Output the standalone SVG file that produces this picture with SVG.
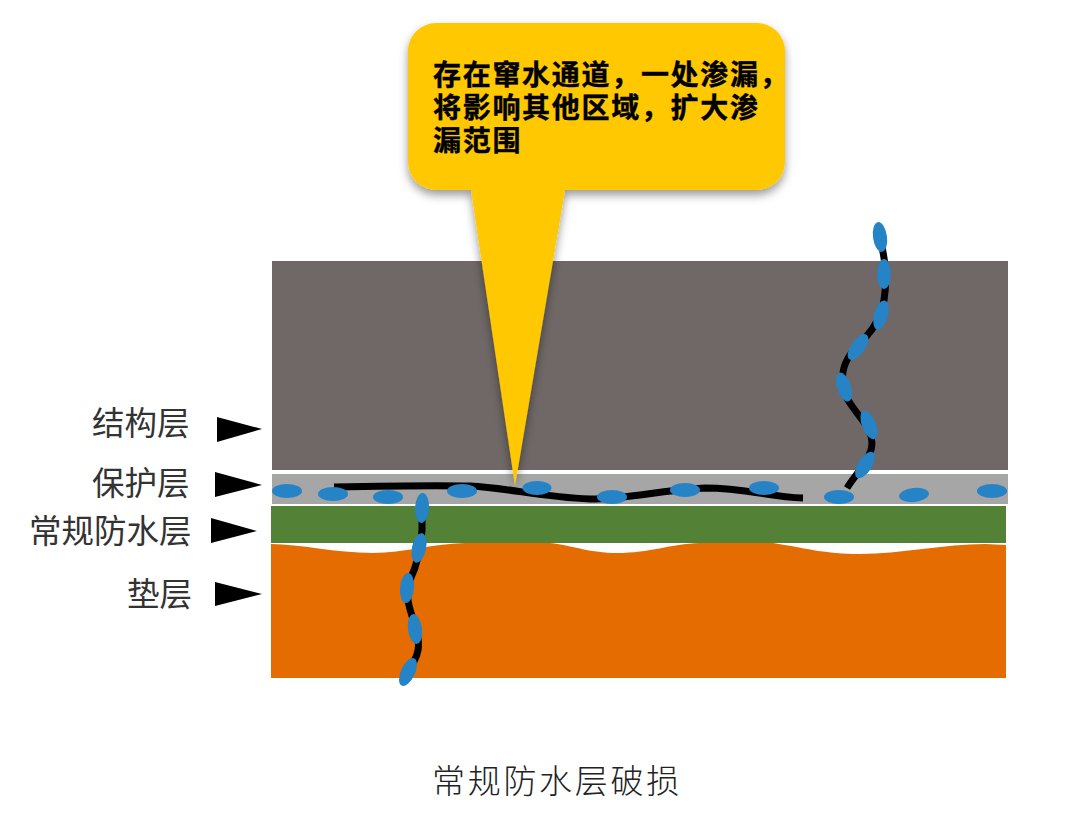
<svg xmlns="http://www.w3.org/2000/svg" width="1080" height="826" viewBox="0 0 1080 826">
<style>
.lb{font-family:"Noto Sans CJK SC","Noto Sans",sans-serif;font-size:32.5px;fill:#333}
.cl{font-family:"Noto Sans CJK SC","Noto Sans",sans-serif;font-size:28px;font-weight:700;fill:#000;letter-spacing:1.7px;stroke:#000;stroke-width:.4px}
.cap{font-family:"Noto Sans CJK SC","Noto Sans",sans-serif;font-size:33px;font-weight:300;fill:#222;letter-spacing:2.7px}
.crack{fill:none;stroke:#000;stroke-width:7}
.drop{fill:#2583c6}
</style>
<defs>
<filter id="sh" x="-10%" y="-10%" width="120%" height="120%"><feDropShadow dx="0" dy="5" stdDeviation="5" flood-color="#000" flood-opacity="0.4"/></filter>
</defs>
<rect width="1080" height="826" fill="#fff"/>
<g id="layer-structure"><rect x="272" y="261" width="736" height="209" fill="#6f6867"/></g>
<g id="layer-protection"><rect x="272" y="474" width="736" height="30" fill="#a6a6a6"/></g>
<g id="layer-waterproof"><rect x="271" y="506" width="735" height="37" fill="#538135"/></g>
<g id="layer-cushion"><path d="M271 544C300 544 335 553 373 553C405 553 430 544 465 543L550 543C575 546 590 553 617 553C650 553 670 544 700 543L773 543C805 548 825 554 860 554C900 554 945 544 985 544L1006 545L1006 678L271 678Z" fill="#e46c00"/></g>
<g id="callout">
<path filter="url(#sh)" d="M436 23H757A28 28 0 0 1 785 51V162A28 28 0 0 1 757 190H565L515 486L471 190H436A28 28 0 0 1 408 162V51A28 28 0 0 1 436 23Z" fill="#ffc800"/>
<text class="cl" x="433" y="85">存在窜水通道，一处渗漏，</text>
<text class="cl" x="433" y="118">将影响其他区域，扩大渗</text>
<text class="cl" x="433" y="151">漏范围</text>
</g>
<g id="connectors">
<path class="crack" d="M334 487C380 486 430 485 470 486C510 488 540 497 590 499C630 499 660 490 705 488C745 488 770 497 803 498"/>
<path class="crack" d="M422 500L422 530C421 550 417 565 410 580C404 595 410 610 415 625C421 645 420 655 407 672"/>
<path class="crack" d="M880 237C884 255 888 275 884 300C880 325 865 338 852 352C840 368 840 385 848 400C860 420 876 430 871 450C866 465 855 475 847 488"/>
<path d="M217 417L262 429L217 442Z"/>
<path d="M215 472L262 485L215 497Z"/>
<path d="M211 518L257 531L211 543Z"/>
<path d="M215 582L262 594L215 606Z"/>
</g>
<g id="drops">
<ellipse class="drop" cx="880" cy="237" rx="7" ry="15" transform="rotate(-8 880 237)"/>
<ellipse class="drop" cx="884" cy="274" rx="7" ry="15"/>
<ellipse class="drop" cx="881" cy="315" rx="7" ry="15" transform="rotate(15 881 315)"/>
<ellipse class="drop" cx="858" cy="347" rx="7" ry="15" transform="rotate(35 858 347)"/>
<ellipse class="drop" cx="844" cy="387" rx="7" ry="15" transform="rotate(-18 844 387)"/>
<ellipse class="drop" cx="869" cy="425" rx="7" ry="15" transform="rotate(-22 869 425)"/>
<ellipse class="drop" cx="865" cy="465" rx="7" ry="15" transform="rotate(32 865 465)"/>
<ellipse class="drop" cx="422" cy="508" rx="7" ry="15" transform="rotate(3 422 508)"/>
<ellipse class="drop" cx="419" cy="548" rx="7" ry="15" transform="rotate(12 419 548)"/>
<ellipse class="drop" cx="407" cy="588" rx="7" ry="15" transform="rotate(5 407 588)"/>
<ellipse class="drop" cx="415" cy="629" rx="7" ry="15" transform="rotate(-8 415 629)"/>
<ellipse class="drop" cx="408" cy="672" rx="7" ry="15" transform="rotate(25 408 672)"/>
<ellipse class="drop" cx="287" cy="491" rx="15" ry="7"/>
<ellipse class="drop" cx="333" cy="494" rx="15" ry="7"/>
<ellipse class="drop" cx="388" cy="497" rx="15" ry="7"/>
<ellipse class="drop" cx="462" cy="491" rx="15" ry="7"/>
<ellipse class="drop" cx="537" cy="488" rx="14.5" ry="7"/>
<ellipse class="drop" cx="612" cy="497" rx="15" ry="7"/>
<ellipse class="drop" cx="685" cy="490" rx="15" ry="7"/>
<ellipse class="drop" cx="764" cy="488" rx="15" ry="7"/>
<ellipse class="drop" cx="839" cy="497" rx="15" ry="7"/>
<ellipse class="drop" cx="914" cy="495" rx="15" ry="7" transform="rotate(-6 914 495)"/>
<ellipse class="drop" cx="992" cy="491" rx="15" ry="7"/>
</g>
<g id="labels">
<text class="lb" x="92" y="435">结构层</text>
<text class="lb" x="92" y="495">保护层</text>
<text class="lb" x="29" y="543">常规防水层</text>
<text class="lb" x="127" y="606">垫层</text>
<text class="cap" x="432" y="793">常规防水层破损</text>
</g>
</svg>
